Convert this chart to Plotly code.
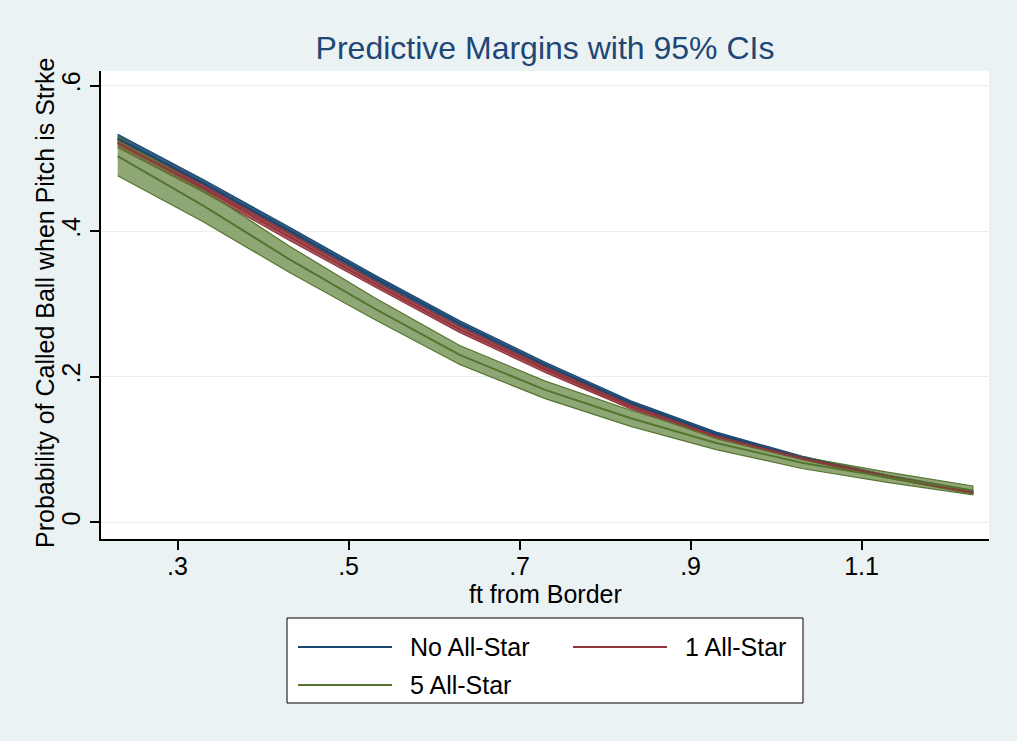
import plotly.graph_objects as go

# ---- data ----
ft_from_border = [0.23, 0.33, 0.43, 0.53, 0.63, 0.73, 0.83, 0.93, 1.03, 1.13, 1.23]

no_allstar = [0.527, 0.466, 0.401, 0.336, 0.273, 0.216, 0.164, 0.121, 0.089, 0.063, 0.042]
no_allstar_lo = [0.521, 0.461, 0.396, 0.332, 0.269, 0.212, 0.161, 0.118, 0.087, 0.061, 0.040]
no_allstar_hi = [0.533, 0.471, 0.406, 0.340, 0.277, 0.220, 0.167, 0.124, 0.091, 0.065, 0.044]

one_allstar = [0.521, 0.459, 0.393, 0.328, 0.265, 0.210, 0.159, 0.118, 0.088, 0.063, 0.041]
one_allstar_lo = [0.515, 0.454, 0.388, 0.324, 0.261, 0.206, 0.156, 0.115, 0.086, 0.061, 0.039]
one_allstar_hi = [0.527, 0.464, 0.398, 0.332, 0.269, 0.214, 0.162, 0.121, 0.090, 0.065, 0.043]

five_allstar = [0.503, 0.435, 0.362, 0.294, 0.230, 0.182, 0.143, 0.109, 0.082, 0.062, 0.044]
five_allstar_lo = [0.476, 0.413, 0.344, 0.279, 0.217, 0.170, 0.132, 0.100, 0.074, 0.055, 0.038]
five_allstar_hi = [0.530, 0.457, 0.380, 0.309, 0.243, 0.194, 0.154, 0.118, 0.090, 0.069, 0.050]

series_names = ["No All-Star", "1 All-Star", "5 All-Star"]
x_ticks = [0.3, 0.5, 0.7, 0.9, 1.1]
x_ticktext = [".3", ".5", ".7", ".9", "1.1"]
y_ticks = [0, 0.2, 0.4, 0.6]
y_ticktext = ["0", ".2", ".4", ".6"]

# ---- styling ----
line_colors = ["#1A476F", "#90353B", "#55752F"]
fill_colors = ["rgba(26,71,111,0.88)", "rgba(160,60,66,0.85)", "rgba(90,125,50,0.68)"]
BG = "#EAF2F3"
FONT = "Liberation Sans, Arial, Helvetica, sans-serif"

W, H = 1017, 741
L, R, T, B = 101, 989, 71, 539  # plot area in pixels

def px(x):
    return (x - L) / (R - L)

def py(y):
    return (B - y) / (B - T)

fig = go.Figure()

series = [
    (no_allstar, no_allstar_lo, no_allstar_hi),
    (one_allstar, one_allstar_lo, one_allstar_hi),
    (five_allstar, five_allstar_lo, five_allstar_hi),
]

# CI areas first
for (mid, lo, hi), lc, fc, name in zip(series, line_colors, fill_colors, series_names):
    fig.add_trace(go.Scatter(
        x=ft_from_border + ft_from_border[::-1],
        y=hi + lo[::-1],
        fill="toself", fillcolor=fc,
        line=dict(color=lc, width=1.2),
        mode="lines", showlegend=False, hoverinfo="skip", name=name + " CI"))

# mean lines on top
for (mid, lo, hi), lc, name in zip(series, line_colors, series_names):
    fig.add_trace(go.Scatter(
        x=ft_from_border, y=mid, mode="lines",
        line=dict(color=lc, width=2), name=name, showlegend=False))

# ---- manual legend (Stata style) ----
shapes = [dict(type="rect", xref="paper", yref="paper",
               x0=px(287), x1=px(803), y0=py(703), y1=py(618),
               fillcolor="white", line=dict(color="black", width=1), layer="above")]
annotations = []
legend_items = [(298, 392, 408, 647), (573, 667, 683, 647), (298, 392, 408, 685)]
for (lx0, lx1, tx, ly), lc, name in zip(legend_items, line_colors, series_names):
    shapes.append(dict(type="line", xref="paper", yref="paper",
                       x0=px(lx0), x1=px(lx1), y0=py(ly), y1=py(ly),
                       line=dict(color=lc, width=2), layer="above"))
    annotations.append(dict(xref="paper", yref="paper", x=px(tx), y=py(ly),
                            text=name, showarrow=False, xanchor="left", yanchor="middle",
                            font=dict(family=FONT, size=25, color="black")))

# axis titles
annotations.append(dict(xref="paper", yref="paper", x=px(545), y=py(594),
                        text="ft from Border", showarrow=False,
                        xanchor="center", yanchor="middle",
                        font=dict(family=FONT, size=25, color="black")))
annotations.append(dict(xref="paper", yref="paper", x=px(45), y=py(303),
                        text="Probability of Called Ball when Pitch is Strke",
                        showarrow=False, textangle=-90,
                        xanchor="center", yanchor="middle",
                        font=dict(family=FONT, size=25, color="black")))

fig.update_layout(
    width=W, height=H,
    paper_bgcolor=BG, plot_bgcolor="white",
    margin=dict(l=L, r=W - R, t=T, b=H - B, autoexpand=False),
    title=dict(text="Predictive Margins with 95% CIs", x=0.5, xref="paper",
               y=1 - 48 / H, yanchor="middle",
               font=dict(family=FONT, size=32, color="#1E4676")),
    font=dict(family=FONT, size=25, color="black"),
    shapes=shapes, annotations=annotations,
    showlegend=False,
)

fig.update_xaxes(
    range=[0.2105, 1.249], tickvals=x_ticks, ticktext=x_ticktext,
    showgrid=False, zeroline=False,
    showline=True, linecolor="black", linewidth=1.5,
    ticks="outside", ticklen=9, tickcolor="black", tickwidth=1.5,
    tickfont=dict(family=FONT, size=25, color="black"),
    ticklabelstandoff=-5,
    automargin=False,
)
fig.update_yaxes(
    range=[-0.0228, 0.62], tickvals=y_ticks, ticktext=y_ticktext, tickangle=-90,
    showgrid=True, gridcolor="#E6EEF0", gridwidth=1, zeroline=False,
    showline=True, linecolor="black", linewidth=1.5,
    ticks="outside", ticklen=9, tickcolor="black", tickwidth=1.5,
    tickfont=dict(family=FONT, size=25, color="black"),
    automargin=False,
)

fig.write_html("out.html", config={"displayModeBar": False},
               post_script="document.body.style.margin='0';")
